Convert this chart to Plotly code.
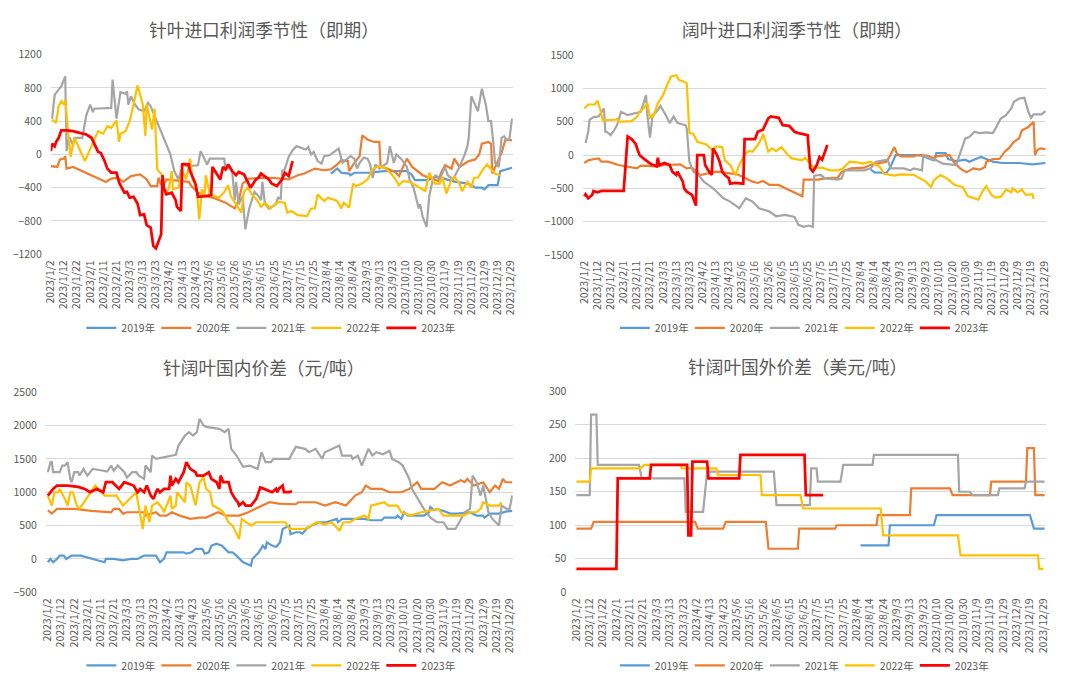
import plotly.graph_objects as go

DATE_TICKS = ["2023/1/2", "2023/1/12", "2023/1/22", "2023/2/1", "2023/2/11", "2023/2/21",
              "2023/3/3", "2023/3/13", "2023/3/23", "2023/4/2", "2023/4/13", "2023/4/23",
              "2023/5/6", "2023/5/16", "2023/5/26", "2023/6/5", "2023/6/15", "2023/6/25",
              "2023/7/5", "2023/7/15", "2023/7/25", "2023/8/4", "2023/8/14", "2023/8/24",
              "2023/9/3", "2023/9/13", "2023/9/23", "2023/10/10", "2023/10/20", "2023/10/30",
              "2023/11/9", "2023/11/19", "2023/11/29", "2023/12/9", "2023/12/19", "2023/12/29"]

YEARS = ["2019年", "2020年", "2021年", "2022年", "2023年"]
COLORS = ["#5B9BD5", "#ED7D31", "#A5A5A5", "#FFC000", "#FF0000"]

TITLES = ["针叶进口利润季节性（即期）", "阔叶进口利润季节性（即期）",
          "针阔叶国内价差（元/吨）", "针阔叶国外价差（美元/吨）"]

# (category index, value) pairs; category index = position in the trading-day axis
# ---------------- Panel 1: 针叶进口利润 ----------------
P1_2019 = [(213,-230),(216,-200),(218,-170),(221,-220),(227,-230),(228,-250),(231,-220),(243,-220),
           (253,-200),(271,-200),(275,-250),(277,-310),(287,-310),(291,-280),(296,-270),(301,-300),
           (308,-330),(318,-350),(323,-400),(328,-400),(330,-420),(333,-370),(340,-370),(342,-200),
           (346,-180),(351,-160)]
P1_2020 = [(0,-140),(5,-150),(7,-60),(10,-50),(11,-20),(12,-170),(17,-150),(42,-330),(46,-290),(51,-280),
           (55,-330),(61,-260),(68,-240),(73,-300),(76,-380),(81,-380),(82,-280),(85,-400),(88,-300),
           (98,-320),(105,-330),(107,-380),(112,-460),(118,-500),(125,-530),(133,-580),(140,-650),
           (143,-550),(146,-350),(151,-290),(168,-280),(181,-300),(188,-250),(193,-230),(201,-170),
           (208,-190),(213,-180),(218,-120),(221,-70),(226,-80),(227,-200),(231,-100),(235,-20),
           (237,230),(241,180),(246,150),(250,150),(251,-150),(256,-170),(262,-210),(265,-260),
           (268,-150),(271,-50),(275,-150),(283,-250),(288,-280),(295,-320),(297,-220),(300,-130),
           (305,-170),(307,-50),(311,-150),(318,-80),(323,-60),(326,0),(328,130),(333,150),(335,130),
           (336,-230),(341,-50),(343,20),(346,180),(351,170)]
P1_2021 = [(1,430),(3,720),(6,780),(8,820),(11,940),(12,40),(14,210),(17,110),(18,200),(24,200),
           (27,470),(30,600),(32,510),(33,550),(46,560),(47,900),(50,430),(53,750),(57,730),(58,760),
           (59,600),(61,700),(64,600),(67,540),(71,520),(74,620),(76,580),(78,500),(81,400),(91,0),
           (94,-200),(97,-300),(98,-250),(101,-100),(103,-140),(112,-130),(114,40),(117,-60),
           (119,-120),(121,-50),(132,-50),(133,-180),(136,-150),(138,-200),(140,-550),(141,-330),
           (143,-600),(146,-500),(147,-700),(148,-900),(151,-650),(155,-450),(158,-500),(160,-550),
           (161,-330),(163,-600),(166,-650),(171,-600),(173,-520),(175,-530),(176,-200),(178,-180),
           (181,-30),(184,50),(187,100),(191,80),(194,60),(196,90),(198,0),(200,30),(203,-80),
           (206,-110),(208,-20),(212,-10),(217,40),(219,70),(222,-100),(225,-60),(228,-20),(231,-50),
           (233,-170),(235,-100),(238,-40),(241,-50),(243,-120),(245,-280),(247,-120),(250,-170),
           (256,-100),(258,100),(261,-100),(263,0),(267,-60),(271,-150),(273,-300),(276,-400),
           (280,-650),(281,-600),(283,-750),(286,-870),(288,-500),(291,-280),(293,-250),(296,-300),
           (300,-150),(302,-250),(306,-300),(311,-150),(315,0),(317,100),(318,200),(320,700),
           (323,600),(325,520),(328,790),(331,600),(333,400),(335,400),(337,100),(338,-100),
           (341,-150),(343,200),(345,220),(347,170),(349,190),(351,430)]
P1_2022 = [(1,420),(4,380),(6,580),(8,640),(10,600),(11,660),(13,300),(15,-30),(18,200),(22,60),
           (26,-80),(31,100),(36,280),(40,250),(43,340),(46,320),(50,410),(52,150),(53,250),(57,280),
           (60,400),(63,600),(66,830),(70,600),(72,220),(73,600),(77,300),(79,550),(81,-180),
           (85,-250),(87,-480),(90,-400),(92,-200),(93,-420),(97,-400),(100,-200),(103,-300),
           (106,-50),(108,-300),(111,-400),(113,-780),(115,-420),(117,-500),(118,-250),(121,-480),
           (128,-520),(132,-450),(135,-370),(137,-500),(145,-700),(147,-450),(150,-400),(153,-480),
           (157,-550),(160,-630),(163,-580),(167,-650),(173,-570),(178,-580),(180,-700),(183,-680),
           (188,-730),(195,-740),(198,-650),(201,-650),(203,-480),(208,-560),(211,-520),(216,-550),
           (218,-560),(221,-650),(223,-580),(227,-640),(230,-350),(232,-380),(237,-350),(241,-300),
           (245,-180),(248,-150),(253,-150),(257,-200),(261,-270),(265,-370),(268,-320),(273,-330),
           (281,-400),(285,-440),(288,-220),(292,-350),(296,-350),(298,-270),(301,-470),(305,-300),
           (307,-270),(311,-350),(313,-440),(317,-330),(320,-400),(322,-280),(325,-280),(328,-200),
           (332,-120),(336,-200),(338,-230),(342,-250)]
P1_2023 = [(0,40),(1,130),(3,100),(4,150),(6,200),(8,290),(12,290),(17,280),(22,260),(27,240),
           (31,200),(33,130),(36,30),(38,20),(41,-80),(43,-170),(46,-220),(50,-220),(52,-340),
           (56,-460),(58,-450),(60,-520),(63,-510),(66,-590),(68,-730),(71,-720),(73,-850),(76,-880),
           (78,-1100),(80,-1130),(82,-1050),(84,-960),(85,-250),(86,-400),(88,-480),(92,-460),
           (95,-550),(96,-630),(99,-680),(100,-120),(105,-120),(106,-200),(110,-350),(112,-510),
           (118,-500),(122,-490),(123,-150),(126,-220),(129,-300),(131,-150),(133,-180),(135,-120),
           (138,-200),(141,-250),(143,-210),(147,-240),(150,-330),(152,-400),(156,-300),(158,-280),
           (160,-230),(166,-300),(168,-350),(172,-380),(176,-300),(178,-220),(181,-260),(184,-80)]

# ---------------- Panel 2: 阔叶进口利润 ----------------
P2_2019 = [(218,-220),(221,-260),(230,-270),(233,-180),(237,0),(256,0),(262,-50),(266,-80),(268,30),
           (275,30),(277,-60),(283,-90),(290,-70),(293,-100),(298,-60),(302,-30),(306,-60),(311,-100),
           (318,-120),(331,-120),(341,-140),(351,-120)]
P2_2020 = [(0,-120),(3,-80),(8,-60),(11,-50),(13,-100),(18,-100),(26,-150),(33,-170),(40,-200),
           (43,-160),(56,-170),(61,-150),(73,-140),(78,-200),(82,-190),(86,-260),(88,-300),(101,-250),
           (110,-270),(116,-290),(121,-330),(128,-400),(132,-420),(136,-390),(141,-450),(148,-450),
           (153,-500),(161,-580),(166,-620),(167,-370),(178,-370),(183,-350),(193,-340),(196,-250),
           (203,-200),(213,-190),(218,-150),(223,-130),(230,-100),(233,0),(236,120),(238,20),(241,-20),
           (251,-20),(253,0),(261,-10),(266,-50),(268,-20),(278,0),(281,-100),(286,-200),(291,-260),
           (296,-200),(301,-220),(305,-180),(306,-100),(311,-60),(316,-60),(320,50),(323,100),
           (327,200),(331,250),(333,370),(338,420),(342,500),(343,0),(345,80),(347,100),(351,90)]
P2_2021 = [(1,180),(3,350),(4,530),(7,570),(11,580),(15,700),(16,350),(17,350),(20,300),(22,350),
           (25,450),(28,650),(33,600),(38,620),(43,650),(47,900),(48,600),(50,260),(52,600),(55,650),
           (58,740),(62,600),(65,480),(68,580),(71,480),(77,450),(78,400),(80,-100),(83,-250),
           (87,-300),(91,-400),(98,-500),(102,-580),(106,-650),(111,-700),(118,-800),(123,-650),
           (128,-700),(133,-800),(141,-850),(146,-920),(153,-900),(160,-930),(163,-1050),(167,-1080),
           (171,-1060),(174,-1080),(175,-310),(180,-300),(183,-350),(193,-370),(196,-350),(198,-230),
           (213,-230),(218,-200),(222,-100),(228,-80),(231,-70),(233,-200),(243,-200),(248,-230),
           (251,-200),(257,-230),(258,0),(263,-50),(268,-80),(273,-130),(283,-150),(290,250),
           (293,270),(297,350),(301,330),(306,340),(311,330),(313,400),(317,550),(321,600),(325,700),
           (327,800),(331,850),(335,860),(338,650),(340,560),(342,610),(348,610),(351,660)]
P2_2022 = [(0,700),(3,760),(8,760),(10,820),(12,700),(14,520),(23,530),(25,540),(26,500),(36,510),
           (40,570),(42,650),(45,700),(48,780),(50,560),(53,600),(56,780),(60,900),(62,1000),
           (66,1180),(70,1200),(72,1130),(77,1090),(78,1080),(80,330),(83,320),(86,200),(91,170),
           (93,160),(96,100),(98,60),(100,130),(105,120),(107,-80),(111,-150),(115,-300),(116,-250),
           (118,-150),(122,0),(125,60),(128,50),(132,150),(135,250),(136,320),(138,200),(140,50),
           (143,100),(146,60),(150,120),(155,0),(158,-50),(166,-80),(168,-40),(172,-130),(175,-200),
           (181,-190),(187,-230),(193,-230),(197,-200),(202,-100),(208,-110),(212,-130),(218,-100),
           (225,-180),(228,-280),(236,-310),(241,-290),(251,-300),(260,-400),(264,-480),(266,-380),
           (271,-300),(276,-350),(282,-450),(288,-480),(292,-620),(296,-650),(300,-670),(303,-550),
           (306,-470),(310,-600),(313,-640),(317,-630),(321,-520),(325,-560),(326,-500),(330,-560),
           (333,-520),(336,-600),(341,-590),(342,-660)]
P2_2023 = [(0,-620),(1,-590),(3,-650),(6,-600),(7,-540),(10,-560),(13,-540),(30,-540),(33,280),
           (36,240),(39,170),(42,0),(45,-50),(48,-90),(51,-140),(55,-170),(56,-40),(57,-150),
           (61,-120),(65,-150),(67,-250),(70,-300),(71,-250),(75,-400),(76,-500),(78,-550),(82,-600),
           (85,-760),(86,0),(91,0),(92,-150),(95,-250),(97,-300),(98,100),(101,0),(103,-100),
           (105,-250),(107,-300),(110,-350),(111,-430),(115,-420),(121,-430),(122,240),(130,240),
           (132,350),(136,380),(140,550),(142,580),(148,560),(151,450),(156,440),(160,350),(163,330),
           (170,300),(172,-200),(174,-250),(177,-150),(179,-30),(181,-70),(185,150)]

# ---------------- Panel 3: 针阔叶国内价差 ----------------
P3_2019 = [(0,-50),(2,0),(4,-50),(7,0),(9,50),(12,50),(14,0),(18,50),(25,50),(35,0),(43,-50),(44,0),
           (50,0),(57,-20),(63,0),(68,0),(73,50),(82,50),(85,-50),(88,0),(90,100),(103,100),(105,80),
           (109,100),(112,150),(117,150),(119,80),(122,100),(124,200),(128,230),(132,200),(137,100),
           (140,100),(143,50),(148,-50),(154,-100),(155,0),(160,100),(163,200),(165,150),(166,250),
           (170,200),(173,180),(176,250),(178,450),(183,500),(184,370),(188,400),(191,400),(193,380),
           (196,450),(200,500),(206,550),(211,550),(219,600),(220,550),(223,600),(240,600),(245,580),
           (253,580),(255,620),(264,620),(265,650),(268,600),(270,700),(273,650),(285,650),(289,700),
           (290,780),(293,730),(295,750),(300,720),(305,680),(310,680),(320,700),(325,650),(330,650),
           (331,620),(335,680),(342,680),(347,710),(352,720)]
P3_2020 = [(0,730),(3,680),(7,750),(20,750),(33,720),(48,700),(50,750),(54,750),(57,680),(60,700),
           (73,700),(74,650),(82,700),(85,650),(90,650),(94,700),(100,650),(108,600),(115,620),
           (120,620),(129,700),(135,650),(145,650),(152,700),(157,750),(162,800),(168,850),(175,830),
           (188,820),(190,850),(203,850),(210,800),(214,820),(218,850),(226,800),(233,950),(238,1000),
           (241,1100),(245,1050),(253,1050),(259,1000),(268,1000),(274,1050),(280,1150),(283,1050),
           (293,1050),(299,1150),(305,1100),(313,1180),(316,1150),(318,1200),(323,1100),(330,1150),
           (335,1000),(339,1100),(342,1050),(345,1200),(347,1150),(352,1150)]
P3_2021 = [(0,1300),(2,1450),(3,1450),(4,1300),(9,1300),(11,1400),(13,1400),(15,1450),(17,1200),
           (18,1150),(20,1300),(23,1300),(24,1250),(27,1350),(30,1250),(34,1350),(40,1330),(45,1310),
           (48,1400),(50,1320),(53,1400),(58,1300),(60,1220),(64,1300),(67,1300),(69,1250),(73,1200),
           (74,1400),(78,1300),(79,1550),(82,1500),(90,1530),(97,1560),(99,1700),(104,1850),
           (107,1900),(110,1850),(113,1900),(115,2100),(118,2000),(120,1980),(130,1950),(134,1900),
           (137,1950),(139,1650),(143,1550),(148,1380),(153,1400),(159,1350),(162,1600),(165,1450),
           (169,1450),(171,1500),(183,1500),(188,1680),(195,1650),(198,1600),(203,1650),(206,1550),
           (208,1500),(210,1600),(216,1650),(221,1700),(223,1550),(230,1550),(231,1500),(235,1550),
           (238,1400),(243,1650),(246,1550),(249,1600),(254,1570),(259,1620),(261,1500),(266,1450),
           (269,1400),(274,1200),(276,1050),(279,950),(281,900),(285,750),(290,620),(295,550),
           (300,550),(303,450),(309,450),(313,600),(316,700),(320,750),(322,1250),(325,1150),
           (328,950),(330,1100),(332,900),(334,700),(337,600),(342,500),(344,800),(348,750),
           (350,750),(352,950)]
P3_2022 = [(0,950),(3,800),(5,1000),(8,1000),(9,1050),(13,900),(15,800),(17,1000),(19,1000),
           (22,800),(24,750),(36,1100),(43,950),(52,950),(57,800),(67,1000),(72,450),(74,800),
           (77,550),(79,800),(83,850),(87,750),(88,700),(93,950),(94,750),(97,800),(98,1000),
           (102,900),(104,850),(105,1150),(108,1100),(112,800),(115,1150),(118,1220),(120,1050),
           (123,1000),(125,800),(130,750),(133,700),(137,550),(140,500),(145,300),(147,600),
           (154,500),(158,550),(180,550),(183,450),(195,450),(200,500),(204,550),(210,520),(215,550),
           (220,450),(221,420),(224,550),(229,550),(233,600),(240,650),(243,600),(245,800),(255,850),
           (258,800),(265,800),(268,700),(275,650),(283,700),(296,750),(300,650),(315,650),(320,700),
           (325,700),(328,750),(330,850),(335,800),(342,800),(344,850)]
P3_2023 = [(0,950),(2,1000),(4,1050),(7,1100),(15,1100),(23,1080),(28,1050),(32,1000),(37,1050),
           (42,1000),(44,1150),(49,1150),(54,1050),(58,1150),(65,1100),(68,1000),(70,1050),(73,1000),
           (75,1100),(78,950),(80,900),(83,1050),(85,1000),(88,1050),(92,1050),(93,1250),(94,1100),
           (97,1200),(99,1150),(103,1300),(105,1450),(108,1350),(112,1300),(113,1250),(118,1250),
           (122,1300),(124,1200),(128,1150),(130,1050),(131,1250),(133,1150),(137,1150),(139,1000),
           (142,900),(144,850),(145,800),(148,850),(150,800),(154,800),(158,900),(159,950),(161,1070),
           (164,1050),(170,1000),(173,1050),(174,1000),(175,1050),(178,1100),(179,1000),(183,1000),
           (185,1020)]

# ---------------- Panel 4: 针阔叶国外价差 ----------------
P4_2019 = [(213,70),(234,70),(235,100),(268,100),(270,115),(340,115),(343,95),(351,95)]
P4_2020 = [(0,95),(11,95),(13,105),(89,105),(91,95),(110,95),(112,105),(142,105),(144,65),(166,65),
           (167,95),(194,95),(195,100),(225,100),(226,115),(250,115),(251,155),(280,155),(282,145),
           (310,145),(311,165),(337,165),(338,215),(343,215),(344,145),(351,145)]
P4_2021 = [(0,145),(10,145),(11,265),(15,265),(16,190),(47,190),(49,170),(81,170),(82,120),(95,120),
           (98,180),(148,180),(150,130),(175,130),(176,185),(180,185),(181,165),(198,165),(200,190),
           (222,190),(223,205),(286,205),(287,150),(295,150),(297,145),(316,145),(317,155),(336,155),
           (337,165),(351,165)]
P4_2022 = [(0,165),(10,165),(11,185),(48,185),(51,190),(78,190),(79,185),(105,185),(106,175),
           (138,175),(139,145),(168,145),(170,125),(228,125),(230,85),(286,85),(288,55),(346,55),
           (347,35),(350,35)]
P4_2023 = [(0,35),(30,35),(31,170),(55,170),(56,190),(83,190),(84,85),(86,85),(87,195),(98,195),
           (99,170),(122,170),(123,205),(171,205),(172,145),(185,145)]

PANEL_SERIES = [
    [P1_2019, P1_2020, P1_2021, P1_2022, P1_2023],
    [P2_2019, P2_2020, P2_2021, P2_2022, P2_2023],
    [P3_2019, P3_2020, P3_2021, P3_2022, P3_2023],
    [P4_2019, P4_2020, P4_2021, P4_2022, P4_2023],
]
Y_TICKS = [
    [-1200, -800, -400, 0, 400, 800, 1200],
    [-1500, -1000, -500, 0, 500, 1000, 1500],
    [-500, 0, 500, 1000, 1500, 2000, 2500],
    [0, 50, 100, 150, 200, 250, 300],
]

# ---------------- layout (pixel geometry) ----------------
W, H = 1080, 690
FONT = "Noto Sans CJK SC"
TXT = "#595959"
# plot-area boxes in px: (left, right, top, bottom), x-range
BOXES = [
    (42.3, 510, 47.7, 251.7, [0, 351.6]),
    (580.7, 1050, 48.3, 252.3, [-1.2, 351.7]),
    (37.3, 510, 392.7, 597.3, [-1.5, 352.5]),
    (573.3, 1050, 391.7, 597.3, [-0.74, 352.3]),
]
TITLE_POS = [(258, 21.7), (798, 21.7), (258, 366.7), (798, 366.2)]
LEGEND_POS = [(263, 327), (803, 327), (263, 672), (803, 672)]

fig = go.Figure()
legend_names = ["legend", "legend2", "legend3", "legend4"]

for p in range(4):
    sfx = "" if p == 0 else str(p + 1)
    for k, series in enumerate(PANEL_SERIES[p]):
        xs = [pt[0] for pt in series]
        ys = [pt[1] for pt in series]
        fig.add_trace(go.Scatter(
            x=xs, y=ys, mode="lines", name=YEARS[k],
            line=dict(color=COLORS[k], width=2.75 if k == 4 else 2.2),
            xaxis="x" + sfx, yaxis="y" + sfx, legend=legend_names[p],
            hoverinfo="skip"))
    l, r, t, b, xr = BOXES[p]
    yt = Y_TICKS[p]
    fig.layout["xaxis" + sfx] = dict(
        domain=[l / W, r / W], range=xr, anchor="y" + sfx,
        tickmode="array", tickvals=[10 * i for i in range(len(DATE_TICKS))], ticktext=DATE_TICKS,
        tickangle=-90, tickfont=dict(family=FONT, size=10.5, color=TXT),
        showgrid=False, zeroline=False, showline=False, ticks="", ticklabelstandoff=3)
    fig.layout["yaxis" + sfx] = dict(
        domain=[1 - b / H, 1 - t / H], range=[yt[0], yt[-1]], anchor="x" + sfx,
        tickmode="array", tickvals=yt, tickfont=dict(family=FONT, size=10.5, color=TXT),
        showgrid=True, gridcolor="#D9D9D9", gridwidth=1, zeroline=False, showline=False,
        ticks="", ticklabelstandoff=8)
    tx, ty = TITLE_POS[p]
    fig.add_annotation(text=TITLES[p], x=tx / W, y=1 - ty / H, xref="paper", yref="paper",
                       xanchor="center", yanchor="middle", showarrow=False,
                       font=dict(family=FONT, size=17.7, color=TXT))
    lx, ly = LEGEND_POS[p]
    fig.layout[legend_names[p]] = dict(
        orientation="h", x=lx / W, y=1 - ly / H, xanchor="center", yanchor="middle",
        xref="paper", yref="paper",
        font=dict(family=FONT, size=10.5, color=TXT), bgcolor="rgba(0,0,0,0)",
        entrywidth=30, entrywidthmode="pixels", itemclick=False, itemdoubleclick=False,
        tracegroupgap=0)

fig.update_layout(
    width=W, height=H, margin=dict(l=0, r=0, t=0, b=0),
    paper_bgcolor="white", plot_bgcolor="white", showlegend=True,
    font=dict(family=FONT, color=TXT))

fig.write_html("out.html", include_plotlyjs=True, config={"displayModeBar": False})
